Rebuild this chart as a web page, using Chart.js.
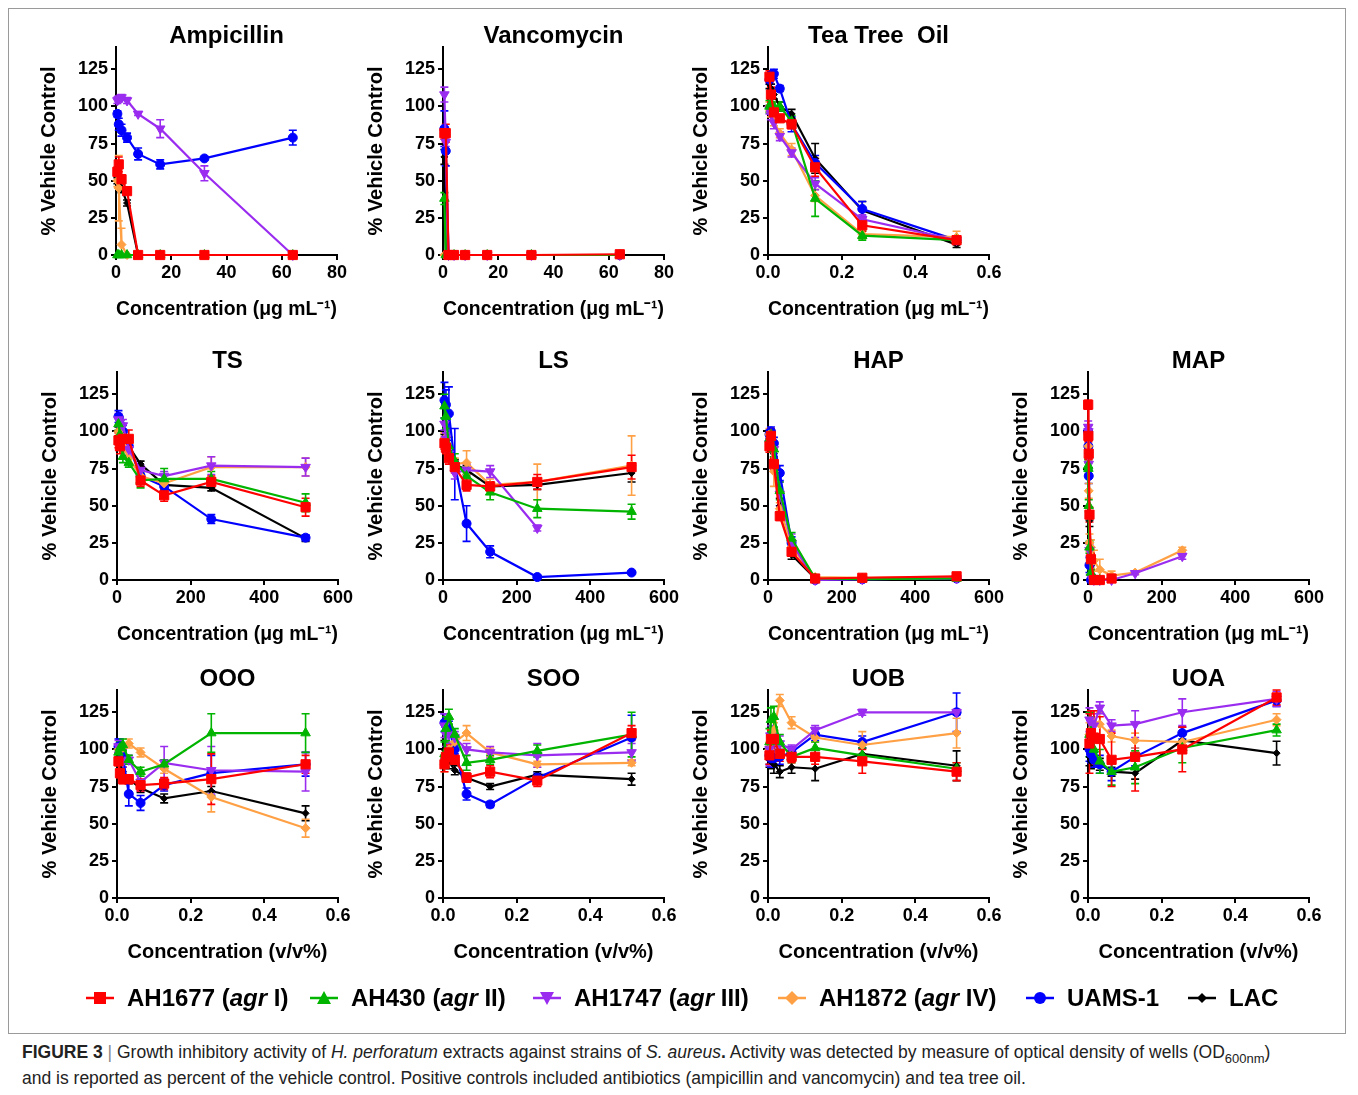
<!DOCTYPE html>
<html>
<head>
<meta charset="utf-8">
<script src="https://cdn.jsdelivr.net/npm/chart.js@4.4.0/dist/chart.umd.min.js"></script>
<style>
  body { margin: 0; background: #fff; width: 1358px; height: 1095px; position: relative; overflow: hidden;
         font-family: "Liberation Sans", Arial, sans-serif; }
  #frame { position: absolute; left: 8px; top: 8px; width: 1336px; height: 1024px; border: 1px solid #9a9a9a; }
  .panel { position: absolute; }
  .item { position: absolute; top: 984px; height: 28px; display: flex; align-items: center;
          font-weight: bold; font-size: 24px; white-space: nowrap; color: #000; }
  .item svg { margin-right: 12px; }
  #caption { position: absolute; left: 22px; top: 1039px; width: 1330px; font-size: 17.5px; line-height: 26px; color: #222; }
  #caption sub { font-size: 13px; line-height: 0; }
</style>
</head>
<body>
<div id="frame"></div>
<div id="caption"><b>FIGURE 3</b> <span style="color:#888">|</span> Growth inhibitory activity of <i>H. perforatum</i> extracts against strains of <i>S. aureus</i><b>.</b> Activity was detected by measure of optical density of wells (OD<sub>600nm</sub>)<br>and is reported as percent of the vehicle control. Positive controls included antibiotics (ampicillin and vancomycin) and tea tree oil.</div>
<script>
// strains (series)
const strains = ['AH1677', 'AH430', 'AH1747', 'AH1872', 'UAMS-1', 'LAC'];
const agrGroups = ['I', 'II', 'III', 'IV', '', ''];

// concentrations (x)
const antibioticConc = [0.5, 1, 2, 4, 8, 16, 32, 64];
const oilConc = [0.004, 0.008, 0.016, 0.032, 0.064, 0.128, 0.256, 0.512];
const extractConc = [4, 8, 16, 32, 64, 128, 256, 512];
const mapConc = [0.5, 1, 2, 4, 8, 16, 32, 64, 128, 256];

// tick labels
const yTicks = [0, 25, 50, 75, 100, 125];
const antibioticTicks = [0, 20, 40, 60, 80];
const extractTicks = [0, 200, 400, 600];
const oilTicks = [0, 0.2, 0.4, 0.6];

// % vehicle control, rows in strain order
const ampicillinY = [
  [56, 61, 51, 43, 0, 0, 0, 0],
  [0, 0, 0, 0, 0, 0, 0, 0],
  [104, 105, 106, 104, 95, 85, 55, 0],
  [50, 45, 7, 0, 0, 0, 0, 0],
  [95, 88, 84, 79, 68, 61, 65, 79],
  [50, 48, 45, 35, 0, 0, 0, 0]
];
const ampicillinErr = [
  [3, 5, 3, 2, 0, 0, 0, 0],
  [0, 0, 0, 0, 0, 0, 0, 0],
  [2, 2, 2, 2, 1, 6, 5, 0],
  [4, 22, 11, 0, 0, 0, 0, 0],
  [2, 4, 4, 3, 4, 3, 1, 5],
  [2, 3, 3, 2, 0, 0, 0, 0]
];
const vancomycinY = [
  [82, 82, 0, 0, 0, 0, 0, 0.5],
  [38, 0, 0, 0, 0, 0, 0, 0],
  [108, 76, 0, 0, 0, 0, 0, 0],
  [0, 0, 0, 0, 0, 0, 0, 0],
  [85, 70, 0, 0, 0, 0, 0, 0],
  [66, 0, 0, 0, 0, 0, 0, 0]
];
const vancomycinErr = [
  [4, 6, 0, 0, 0, 0, 0, 0],
  [4, 0, 0, 0, 0, 0, 0, 0],
  [5, 3, 0, 0, 0, 0, 0, 0],
  [0, 0, 0, 0, 0, 0, 0, 0],
  [12, 10, 0, 0, 0, 0, 0, 0],
  [5, 0, 0, 0, 0, 0, 0, 0]
];
const teaTreeY = [
  [120, 108, 96, 92, 88, 59, 20, 10],
  [100, 102, 100, 100, 90, 38, 13, 10],
  [98, 95, 89, 80, 69, 48, 24, 10],
  [100, 96, 90, 82, 71, 40, 14, 12],
  [118, 121, 122, 112, 88, 62, 31, 10],
  [115, 112, 108, 100, 95, 65, 30, 7]
];
const teaTreeErr = [
  [4, 5, 3, 2, 3, 6, 4, 3],
  [4, 4, 3, 3, 4, 12, 3, 2],
  [3, 4, 4, 3, 3, 4, 3, 2],
  [3, 3, 3, 3, 4, 4, 3, 4],
  [3, 3, 3, 2, 5, 5, 5, 2],
  [3, 3, 3, 3, 3, 10, 6, 2]
];
const tsY = [
  [94, 90, 95, 95, 67, 57, 66, 49],
  [105, 98, 83, 79, 67, 68, 68, 52],
  [108, 106, 104, 88, 74, 70, 77, 76],
  [100, 98, 90, 82, 70, 65, 76, 76],
  [110, 105, 100, 90, 70, 63, 41, 28.5],
  [100, 100, 95, 90, 78, 64, 62, 28]
];
const tsErr = [
  [5, 5, 5, 6, 4, 4, 4, 6],
  [4, 4, 4, 3, 5, 7, 5, 6],
  [4, 4, 4, 4, 3, 3, 6, 6],
  [4, 4, 4, 4, 3, 3, 7, 6],
  [4, 4, 4, 3, 3, 3, 3, 2],
  [3, 3, 3, 3, 2, 2, 2, 2]
];
const lsY = [
  [92, 89, 82, 76, 64, 63, 66, 76],
  [117, 110, 90, 80, 70, 59, 48, 46],
  [105, 95, 85, 72, 74, 73, 35, null],
  [95, 92, 85, 78, 79, 64, 66, 77],
  [121, 118, 112, 78, 38, 19, 2, 5],
  [95, 90, 84, 78, 74, 63, 64, 72]
];
const lsErr = [
  [4, 4, 4, 4, 4, 3, 5, 8],
  [8, 8, 6, 5, 5, 5, 6, 5],
  [4, 4, 4, 4, 4, 4, 2, 0],
  [4, 4, 4, 4, 8, 4, 12, 20],
  [12, 10, 18, 24, 12, 4, 1, 1],
  [3, 3, 3, 3, 3, 3, 3, 6]
];
const hapY = [
  [90, 97, 78, 43, 19, 1, 1.5, 2.5],
  [95, 98, 88, 60, 28, 1, 0.5, 1],
  [92, 95, 88, 58, 25, 0, 0.5, 1],
  [98, 95, 73, 48, 22, 2, 1.5, 2],
  [98, 100, 92, 72, 25, 0, 0.5, 1],
  [95, 95, 85, 50, 17, 1, 1, 1.5]
];
const hapErr = [
  [4, 5, 4, 3, 3, 1, 1, 1],
  [3, 3, 5, 6, 4, 1, 1, 1],
  [4, 4, 5, 8, 6, 1, 1, 1],
  [4, 6, 10, 4, 4, 1, 1, 1],
  [3, 3, 4, 5, 4, 1, 1, 1],
  [3, 3, 4, 5, 3, 1, 1, 1]
];
const mapY = [
  [118, 97, 85, 44, 14, 0, 0, 1, null, null],
  [77, 75, 50, 22, 5, 0, 0, null, null, null],
  [103, 100, 78, 20, 2, 0, 0, 0, 4.5, 16],
  [98, 90, 60, 25, 22, 13, 7, 3, 5, 20],
  [100, 90, 70, 10, 0, 0, null, null, null, null],
  [100, 95, 90, 40, 10, 0, 0, null, null, null]
];
const mapErr = [
  [3, 4, 4, 5, 4, 0, 0, 1, 0, 0],
  [4, 4, 4, 4, 2, 0, 0, 0, 0, 0],
  [4, 4, 4, 4, 2, 0, 0, 0, 1, 2],
  [4, 4, 5, 6, 5, 7, 7, 3, 1, 2],
  [4, 5, 5, 5, 0, 0, 0, 0, 0, 0],
  [4, 4, 4, 4, 3, 0, 0, 0, 0, 0]
];
const oooY = [
  [92, 84, 80, 80, 76, 77, 80, 90],
  [98, 101, 103, 93, 85, 90, 111, 111],
  [102, 101, 92, 93, 78, 91, 86, 85],
  [100, 100, 101, 104, 98, 87, 68, 47],
  [102, 102, 95, 70, 64, 76, 84, 90],
  [95, 90, 85, 80, 74, 67, 72, 57]
];
const oooErr = [
  [3, 3, 3, 3, 4, 4, 17, 6],
  [4, 4, 4, 3, 3, 3, 13, 13],
  [4, 4, 4, 3, 6, 11, 16, 13],
  [3, 3, 3, 3, 3, 3, 10, 6],
  [5, 5, 5, 8, 5, 4, 12, 8],
  [3, 3, 3, 3, 3, 3, 3, 5]
];
const sooY = [
  [90, 95, 98, 93, 81, 85, 79, 111],
  [97, 114, 122, 110, 91, 93, 99, 110],
  [116, 110, 110, 108, 100, 98, 96, 98],
  [90, 94, 100, 105, 111, 98, 90, 91],
  [118, 116, 114, 100, 70, 63, 81, 108],
  [100, 96, 92, 86, 81, 75, 83, 80]
];
const sooErr = [
  [5, 5, 5, 3, 3, 4, 4, 5],
  [8, 8, 5, 4, 5, 3, 4, 15],
  [8, 8, 6, 4, 4, 4, 8, 6],
  [5, 5, 5, 5, 5, 3, 2, 2],
  [6, 6, 5, 3, 4, 2, 3, 15],
  [6, 6, 5, 3, 3, 2, 2, 4]
];
const uobY = [
  [96, 107, 107, 97, 95, 95, 92, 85],
  [105, 120, 122, 105, 95, 101, 96, 87],
  [100, 108, 106, 104, 100, 113, 125, 125],
  [100, 108, 113, 133, 118, 108, 103, 111],
  [96, 94, 94, 95, 98, 110, 105, 125],
  [93, 92, 90, 85, 88, 87, 97, 89]
];
const uobErr = [
  [6, 6, 5, 5, 4, 5, 8, 6],
  [9, 8, 7, 5, 4, 4, 5, 4],
  [11, 8, 5, 5, 3, 3, 2, 2],
  [5, 5, 5, 4, 4, 3, 9, 10],
  [6, 6, 6, 5, 4, 4, 4, 13],
  [5, 5, 6, 4, 4, 8, 4, 10]
];
const uoaY = [
  [104, 111, 108, 107, 93, 95, 100, 135],
  [110, 112, 100, 92, 85, 88, 101, 113],
  [120, 118, 116, 128, 116, 117, 125, 134],
  [110, 113, 118, 117, 109, 106, 105, 120],
  [100, 97, 93, 90, 85, 95, 111, 133],
  [95, 92, 93, 90, 85, 84, 106, 97.5]
];
const uoaErr = [
  [20, 15, 18, 15, 18, 23, 15, 5],
  [15, 10, 10, 8, 9, 11, 10, 4],
  [8, 8, 8, 4, 4, 9, 9, 5],
  [8, 8, 8, 8, 4, 5, 5, 4],
  [8, 6, 5, 6, 6, 6, 4, 4],
  [6, 5, 5, 4, 3, 4, 4, 8]
];

const FONT = '"Liberation Sans", Arial, sans-serif';
const colors = ['#ff0000', '#00b400', '#9a2cf0', '#ffa045', '#0000ff', '#000000'];
const markers = ['rect', 'triangle', 'triangle', 'rectRot', 'circle', 'rectRot'];
const rotations = [0, 0, 180, 0, 0, 0];
const radii = [6.5, 5.5, 5.5, 4.5, 4.5, 3.5];

// error bars drawn through the chart's scales
const errorBars = {
  id: 'errorBars',
  beforeDatasetsDraw(chart) {
    const { ctx, scales: { x, y } } = chart;
    ctx.save();
    for (let i = chart.data.datasets.length - 1; i >= 0; i--) {
      const ds = chart.data.datasets[i];
      ctx.strokeStyle = ds.borderColor;
      ctx.lineWidth = 1.6;
      ds.data.forEach(p => {
        if (!p.e) return;
        const px = x.getPixelForValue(p.x);
        const top = y.getPixelForValue(p.y + p.e);
        const bot = y.getPixelForValue(Math.max(0, p.y - p.e));
        ctx.beginPath();
        ctx.moveTo(px, top); ctx.lineTo(px, bot);
        ctx.moveTo(px - 4, top); ctx.lineTo(px + 4, top);
        ctx.moveTo(px - 4, bot); ctx.lineTo(px + 4, bot);
        ctx.stroke();
      });
    }
    ctx.restore();
  }
};

const panelTitle = {
  id: 'panelTitle',
  afterDraw(chart, args, opts) {
    const { ctx, chartArea } = chart;
    ctx.save();
    ctx.font = 'bold 24px ' + FONT;
    ctx.fillStyle = '#000';
    ctx.textAlign = 'center';
    ctx.textBaseline = 'middle';
    ctx.fillText(opts.text, (chartArea.left + chartArea.right) / 2, chartArea.top - 11);
    ctx.restore();
  }
};

const PAD_L = 90, PAD_T = 40, PAD_R = 30, PAD_B = 80, AREA_W = 221, AREA_H = 208;

function makePanel(left, top, title, conc, ys, errs, xTicks, xMax, xTitle, decimals) {
  const canvas = document.createElement('canvas');
  canvas.className = 'panel';
  canvas.width = PAD_L + AREA_W + PAD_R;
  canvas.height = PAD_T + AREA_H + PAD_B;
  canvas.style.left = (left - PAD_L) + 'px';
  canvas.style.top = (top - PAD_T) + 'px';
  document.body.appendChild(canvas);

  const datasets = strains.map((s, i) => ({
    label: s,
    data: conc.map((c, j) => ({ x: c, y: ys[i][j], e: errs[i][j] })).filter(p => p.y !== null),
    borderColor: colors[i],
    backgroundColor: colors[i],
    borderWidth: 2.2,
    pointStyle: markers[i],
    pointRotation: rotations[i],
    pointRadius: radii[i],
    pointBorderWidth: 1,
    tension: 0,
    clip: false
  }));

  const tickFont = { family: FONT, size: 18, weight: 'bold' };
  const titleFont = { family: FONT, size: 20, weight: 'bold' };
  const gridOpts = { drawOnChartArea: false, drawTicks: true, tickLength: 5, color: '#000', lineWidth: 2 };

  new Chart(canvas, {
    type: 'line',
    data: { datasets },
    options: {
      responsive: false,
      animation: false,
      layout: { padding: { left: 0, top: PAD_T, right: PAD_R, bottom: 0 } },
      plugins: { legend: { display: false }, tooltip: { enabled: false }, panelTitle: { text: title } },
      scales: {
        x: {
          type: 'linear', min: 0, max: xMax,
          afterBuildTicks: sc => { sc.ticks = xTicks.map(v => ({ value: v })); },
          afterFit: sc => { sc.height = PAD_B; },
          ticks: { color: '#000', font: tickFont, padding: 2, maxRotation: 0, autoSkip: false,
                   callback: v => decimals ? v.toFixed(1) : String(v) },
          grid: gridOpts,
          border: { color: '#000', width: 2 },
          title: { display: true, text: xTitle, color: '#000', font: titleFont, padding: { top: 0, bottom: 14 } }
        },
        y: {
          type: 'linear', min: 0, max: 140,
          afterBuildTicks: sc => { sc.ticks = yTicks.map(v => ({ value: v })); },
          afterFit: sc => { sc.width = PAD_L; },
          ticks: { color: '#000', font: tickFont, padding: 3 },
          grid: gridOpts,
          border: { color: '#000', width: 2 },
          title: { display: true, text: '% Vehicle Control', color: '#000', font: titleFont, padding: { top: 11, bottom: 0 } }
        }
      }
    },
    plugins: [errorBars, panelTitle]
  });
}

const ugTitle = 'Concentration (\u03BCg mL\u207B\u00B9)';
const vvTitle = 'Concentration (v/v%)';

makePanel(116, 47, 'Ampicillin', antibioticConc, ampicillinY, ampicillinErr, antibioticTicks, 80, ugTitle, false);
makePanel(443, 47, 'Vancomycin', antibioticConc, vancomycinY, vancomycinErr, antibioticTicks, 80, ugTitle, false);
makePanel(768, 47, 'Tea Tree  Oil', oilConc, teaTreeY, teaTreeErr, oilTicks, 0.6, ugTitle, true);

makePanel(117, 372, 'TS', extractConc, tsY, tsErr, extractTicks, 600, ugTitle, false);
makePanel(443, 372, 'LS', extractConc, lsY, lsErr, extractTicks, 600, ugTitle, false);
makePanel(768, 372, 'HAP', extractConc, hapY, hapErr, extractTicks, 600, ugTitle, false);
makePanel(1088, 372, 'MAP', mapConc, mapY, mapErr, extractTicks, 600, ugTitle, false);

makePanel(117, 690, 'OOO', oilConc, oooY, oooErr, oilTicks, 0.6, vvTitle, true);
makePanel(443, 690, 'SOO', oilConc, sooY, sooErr, oilTicks, 0.6, vvTitle, true);
makePanel(768, 690, 'UOB', oilConc, uobY, uobErr, oilTicks, 0.6, vvTitle, true);
makePanel(1088, 690, 'UOA', oilConc, uoaY, uoaErr, oilTicks, 0.6, vvTitle, true);

// legend
const legendX = [85, 309, 532, 777, 1025, 1187];
const shapes = [
  '<rect x="9" y="4" width="12" height="12"/>',
  '<polygon points="15,3 22,16 8,16"/>',
  '<polygon points="15,17 22,4 8,4"/>',
  '<polygon points="15,3 22,10 15,17 8,10"/>',
  '<circle cx="15" cy="10" r="6"/>',
  '<polygon points="15,5 20,10 15,15 10,10"/>'
];
strains.forEach((s, i) => {
  const d = document.createElement('div');
  d.className = 'item';
  d.style.left = legendX[i] + 'px';
  const label = agrGroups[i] ? `${s} (<i>agr</i> ${agrGroups[i]})` : s;
  d.innerHTML = `<svg width="30" height="20"><line x1="1" y1="10" x2="29" y2="10" stroke="${colors[i]}" stroke-width="2.5"/>` +
    `<g fill="${colors[i]}">${shapes[i]}</g></svg><span>${label}</span>`;
  document.body.appendChild(d);
});
</script>
</body>
</html>
